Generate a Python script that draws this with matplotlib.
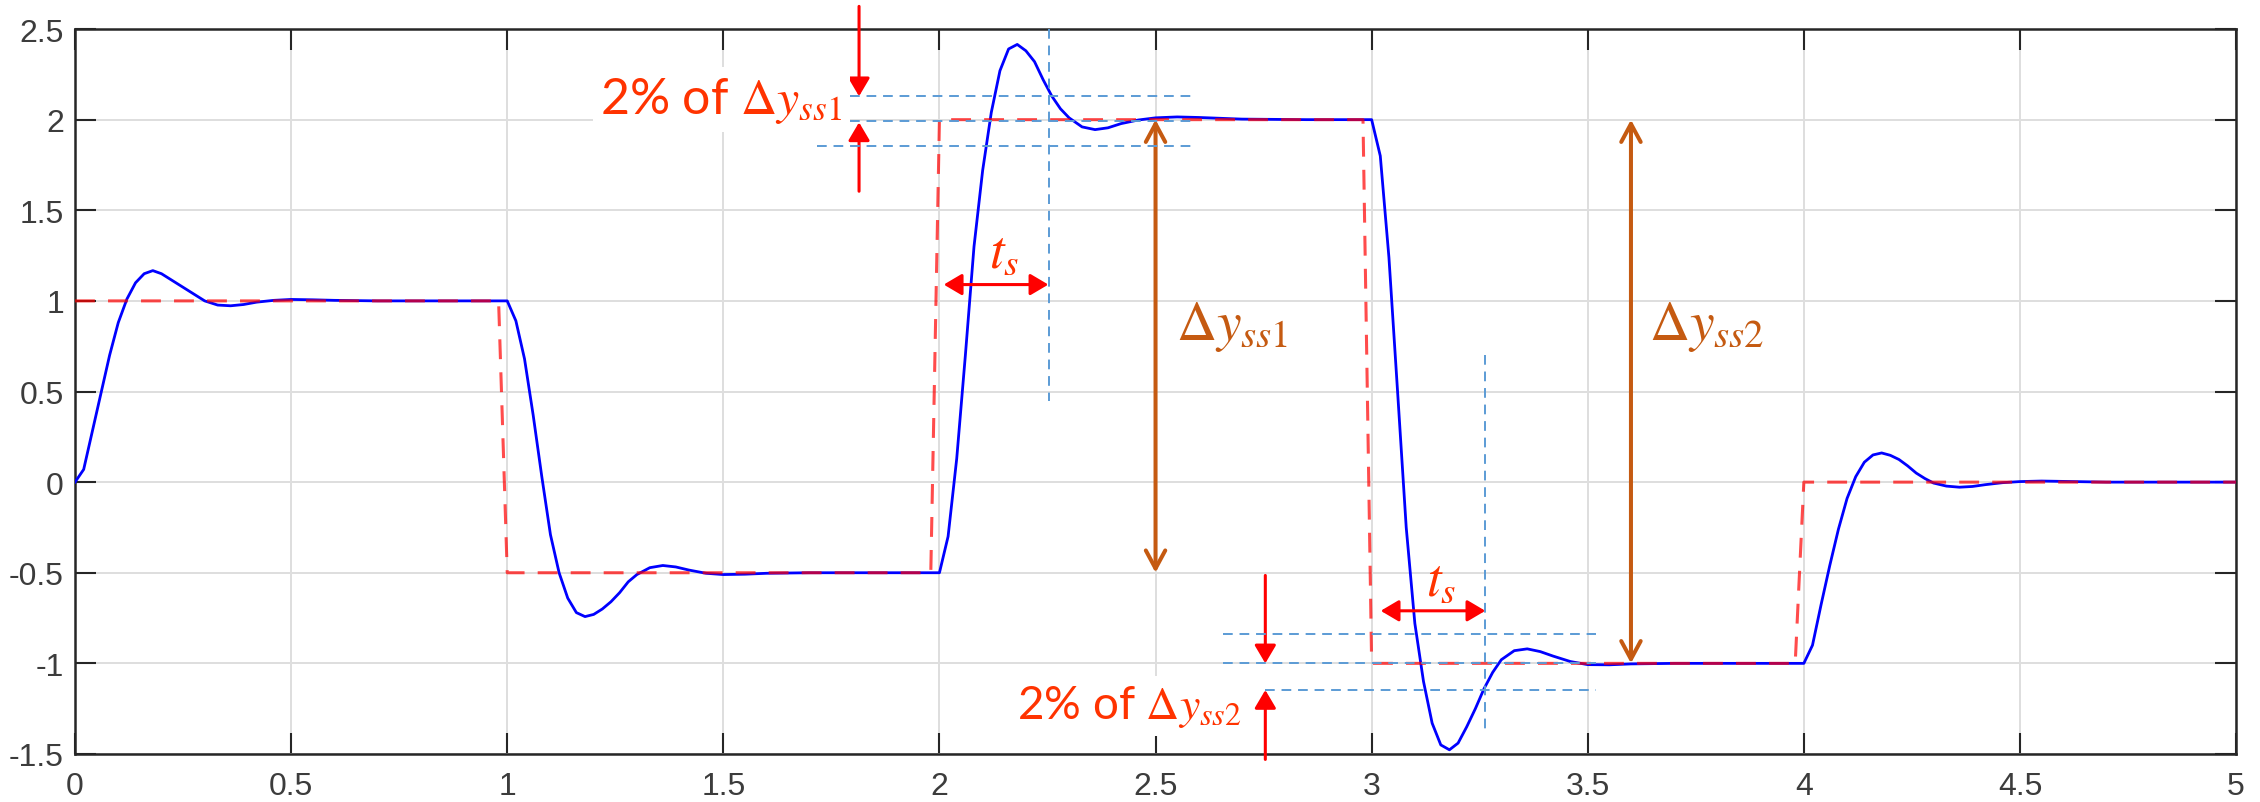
import numpy as np
import matplotlib
matplotlib.use("Agg")
import matplotlib.pyplot as plt
from matplotlib.patches import ArrowStyle

plt.rcParams["mathtext.fontset"] = "stix"

# reference (set-point) signal, sampled at 0.02 s
ref_t = [0.0, 0.98, 1.0, 1.98, 2.0, 2.98, 3.0, 3.98, 4.0, 5.0]
ref_y = [1.0, 1.0, -0.5, -0.5, 2.0, 2.0, -1.0, -1.0, 0.0, 0.0]

t_seg1 = [0.0, 0.02, 0.04, 0.06, 0.08, 0.10, 0.12, 0.14, 0.16, 0.18, 0.20, 0.22, 0.24,
          0.26, 0.28, 0.30, 0.33, 0.36, 0.39, 0.42, 0.46, 0.50, 0.55, 0.60, 0.70, 0.80]
y_seg1 = [0.0, 0.07, 0.28, 0.49, 0.70, 0.88, 1.01, 1.10, 1.15, 1.167, 1.15, 1.12, 1.09,
          1.06, 1.03, 1.00, 0.977, 0.973, 0.98, 0.993, 1.003, 1.008, 1.006, 1.003, 1.0, 1.0]

t_seg2 = [1.00, 1.02, 1.04, 1.06, 1.08, 1.10, 1.12, 1.14, 1.16, 1.18, 1.20, 1.22, 1.24,
          1.26, 1.28, 1.30, 1.33, 1.36, 1.39, 1.42, 1.46, 1.50, 1.55, 1.60, 1.70, 1.85]
y_seg2 = [1.0, 0.89, 0.68, 0.37, 0.03, -0.29, -0.50, -0.64, -0.72, -0.742, -0.73, -0.70, -0.66,
          -0.61, -0.55, -0.51, -0.472, -0.46, -0.468, -0.485, -0.503, -0.51, -0.508, -0.503, -0.5, -0.5]

t_seg3 = [2.00, 2.02, 2.04, 2.06, 2.08, 2.10, 2.12, 2.14, 2.16, 2.18, 2.20, 2.22, 2.24,
          2.26, 2.28, 2.30, 2.33, 2.36, 2.39, 2.42, 2.46, 2.50, 2.55, 2.60, 2.70, 2.85]
y_seg3 = [-0.5, -0.30, 0.13, 0.70, 1.30, 1.72, 2.04, 2.27, 2.39, 2.415, 2.38, 2.32, 2.22,
          2.13, 2.06, 2.01, 1.96, 1.945, 1.955, 1.978, 1.998, 2.01, 2.015, 2.012, 2.003, 2.0]

t_seg4 = [3.00, 3.02, 3.04, 3.06, 3.08, 3.10, 3.12, 3.14, 3.16, 3.18, 3.20, 3.22, 3.24,
          3.26, 3.28, 3.30, 3.33, 3.36, 3.39, 3.42, 3.46, 3.50, 3.55, 3.60, 3.70, 3.85]
y_seg4 = [2.0, 1.80, 1.24, 0.50, -0.25, -0.78, -1.10, -1.33, -1.45, -1.477, -1.44, -1.35, -1.25,
          -1.14, -1.05, -0.98, -0.93, -0.92, -0.935, -0.96, -0.99, -1.007, -1.008, -1.003, -1.0, -1.0]

t_seg5 = [4.00, 4.02, 4.04, 4.06, 4.08, 4.10, 4.12, 4.14, 4.16, 4.18, 4.20, 4.22, 4.24,
          4.26, 4.28, 4.30, 4.33, 4.36, 4.39, 4.42, 4.46, 4.50, 4.55, 4.60, 4.70, 5.00]
y_seg5 = [-1.0, -0.90, -0.675, -0.46, -0.26, -0.09, 0.03, 0.11, 0.15, 0.161, 0.148, 0.125, 0.09,
          0.05, 0.02, -0.005, -0.022, -0.028, -0.024, -0.014, -0.003, 0.003, 0.006, 0.004, 0.0, 0.0]

x_ticks = [0, 0.5, 1, 1.5, 2, 2.5, 3, 3.5, 4, 4.5, 5]
x_tick_labels = ["0", "0.5", "1", "1.5", "2", "2.5", "3", "3.5", "4", "4.5", "5"]
y_ticks = [-1.5, -1, -0.5, 0, 0.5, 1, 1.5, 2, 2.5]
y_tick_labels = ["-1.5", "-1", "-0.5", "0", "0.5", "1", "1.5", "2", "2.5"]

BLUE = "#0000ff"
REF_RED = "#ff0000"
NOTE_RED = "#ff3300"
ARROW_RED = "#ff0000"
BROWN = "#c55a11"
BAND = "#5b9bd5"
AX_COL = "#262626"


def red_arrow(ax, tail, tip, both=False):
    style = ArrowStyle("<|-|>" if both else "-|>", head_length=11, head_width=6.5)
    ax.annotate("", xy=tip, xytext=tail, annotation_clip=False,
                arrowprops=dict(arrowstyle=style, color=ARROW_RED, lw=2.2,
                                shrinkA=0, shrinkB=0, mutation_scale=1))


def brown_arrow(ax, x, y0, y1):
    style = ArrowStyle("<->", head_length=13, head_width=7)
    ax.annotate("", xy=(x, y1), xytext=(x, y0),
                arrowprops=dict(arrowstyle=style, color=BROWN, lw=2.9,
                                shrinkA=0, shrinkB=0, mutation_scale=1))


def band_line(ax, xs, ys):
    ax.plot(xs, ys, color=BAND, lw=1.4, dashes=(5, 3.5), zorder=4, clip_on=False)


def main():
    fig = plt.figure(figsize=(22.6, 8.03), dpi=100)
    ax = fig.add_axes([0.0332, 0.0598, 0.9562, 0.9028])

    t_resp = t_seg1 + t_seg2 + t_seg3 + t_seg4 + t_seg5
    y_resp = y_seg1 + y_seg2 + y_seg3 + y_seg4 + y_seg5
    ax.plot(t_resp, y_resp, color=BLUE, lw=2.0, zorder=3)
    ax.plot(ref_t, ref_y, color=REF_RED, lw=2.2, alpha=0.7, dashes=(6.5, 4.3), zorder=3)

    ax.set_xlim(0, 5)
    ax.set_ylim(-1.5, 2.5)
    ax.set_xticks(x_ticks)
    ax.set_xticklabels(x_tick_labels)
    ax.set_yticks(y_ticks)
    ax.set_yticklabels(y_tick_labels)
    ax.grid(True, color="#dedede", lw=1.4)
    ax.set_axisbelow(True)
    ax.tick_params(direction="in", length=15, width=1.5, top=True, right=True,
                   colors=AX_COL, labelsize=23, labelcolor="#3c3c3c")
    ax.tick_params(axis="x", pad=12)
    ax.tick_params(axis="y", pad=8)
    for lab in ax.get_xticklabels() + ax.get_yticklabels():
        lab.set_fontfamily("Liberation Sans")
    for sp in ax.spines.values():
        sp.set_color(AX_COL)
        sp.set_linewidth(1.8)

    # 2% band for the first annotated step
    band_line(ax, [1.794, 2.582], [2.129, 2.129])
    band_line(ax, [1.794, 2.582], [1.99, 1.99])
    band_line(ax, [1.717, 2.582], [1.857, 1.857])
    band_line(ax, [2.253, 2.253], [2.5, 0.45])

    # 2% band for the second annotated step
    band_line(ax, [2.657, 3.519], [-0.84, -0.84])
    band_line(ax, [2.657, 3.519], [-1.0, -1.0])
    band_line(ax, [2.754, 3.519], [-1.147, -1.147])
    band_line(ax, [3.263, 3.263], [0.70, -1.39])

    red_arrow(ax, (1.814, 2.625), (1.814, 2.129))
    red_arrow(ax, (1.814, 1.605), (1.814, 1.985))
    red_arrow(ax, (2.754, -0.515), (2.754, -1.0))
    red_arrow(ax, (2.754, -1.53), (2.754, -1.147))
    red_arrow(ax, (2.01, 1.09), (2.252, 1.09), both=True)
    red_arrow(ax, (3.021, -0.71), (3.263, -0.71), both=True)

    brown_arrow(ax, 2.5, -0.5, 2.0)
    brown_arrow(ax, 3.6, -1.0, 2.0)

    box = dict(boxstyle="square,pad=0.15", fc="white", ec="none")
    ax.text(1.215, 2.037, r"2% of $\Delta y_{ss1}$", color=NOTE_RED, fontsize=36,
            family="Lato", ha="left", va="baseline", bbox=box, zorder=5)
    ax.text(2.18, -1.303, r"2% of $\Delta y_{ss2}$", color=NOTE_RED, fontsize=33,
            family="Lato", ha="left", va="baseline", bbox=box, zorder=5)
    ax.text(2.548, 0.79, r"$\Delta y_{ss1}$", color=BROWN, fontsize=40,
            ha="left", va="baseline", zorder=5)
    ax.text(3.642, 0.79, r"$\Delta y_{ss2}$", color=BROWN, fontsize=40,
            ha="left", va="baseline", zorder=5)
    ax.text(2.115, 1.19, r"$t_s$", color=NOTE_RED, fontsize=38,
            ha="left", va="baseline", zorder=5)
    ax.text(3.125, -0.62, r"$t_s$", color=NOTE_RED, fontsize=38,
            ha="left", va="baseline", zorder=5)

    fig.savefig("out.png", dpi=100)


if __name__ == "__main__":
    main()
